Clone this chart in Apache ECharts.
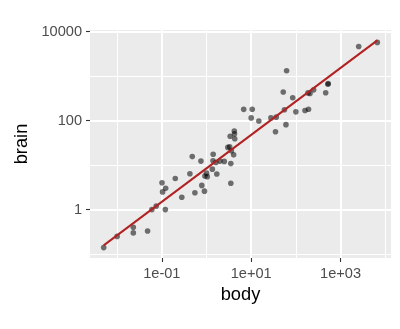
<!DOCTYPE html>
<html><head><meta charset="utf-8">
<script src="https://cdn.jsdelivr.net/npm/echarts@6/dist/echarts.min.js"></script>
<style>html,body{margin:0;padding:0;background:#fff}#c{width:400px;height:329px}</style>
</head><body><div id="c"></div>
<script>
// MASS::mammals (body kg, brain g)
const species = ["Arctic fox","Owl monkey","Mountain beaver","Cow","Grey wolf","Goat","Roe deer","Guinea pig","Verbet","Chinchilla","Ground squirrel","Arctic ground squirrel","African giant pouched rat","Lesser short-tailed shrew","Star-nosed mole","Nine-banded armadillo","Tree hyrax","N.A. opossum","Asian elephant","Big brown bat","Donkey","Horse","European hedgehog","Patas monkey","Cat","Galago","Genet","Giraffe","Gorilla","Grey seal","Rock hyrax-a","Human","African elephant","Water opossum","Rhesus monkey","Kangaroo","Yellow-bellied marmot","Golden hamster","Mouse","Little brown bat","Slow loris","Okapi","Rabbit","Sheep","Jaguar","Chimpanzee","Baboon","Desert hedgehog","Giant armadillo","Rock hyrax-b","Raccoon","Rat","E. American mole","Mole rat","Musk shrew","Pig","Echidna","Brazilian tapir","Tenrec","Phalanger","Tree shrew","Red fox"];
const body = [3.385,0.48,1.35,465,36.33,27.66,14.83,1.04,4.19,0.425,0.101,0.92,1,0.005,0.06,3.5,2,1.7,2547,0.023,187.1,521,0.785,10,3.3,0.2,1.41,529,207,85,0.75,62,6654,3.5,6.8,35,4.05,0.12,0.023,0.01,1.4,250,2.5,55.5,100,52.16,10.55,0.55,60,3.6,4.288,0.28,0.075,0.122,0.048,192,3,160,0.9,1.62,0.104,4.235];
const brain = [44.5,15.5,8.1,423,119.5,115,98.2,5.5,58,6.4,4,5.7,6.6,0.14,1,10.8,12.3,6.3,4603,0.3,419,655,3.5,115,25.6,5,17.5,680,406,325,12.3,1320,5712,3.9,179,56,17,1,0.4,0.25,12.5,490,12.1,175,157,440,179.5,2.4,81,21,39.2,1.9,1.2,3,0.33,180,25,169,2.6,11.4,2.5,50.4];
// fitted line endpoints
const fitBody = [0.005, 6654];
const fitBrain = [0.157, 6340];
// ticks
const xMajor = [0.1, 10, 1000];
const xMajorLabels = ["1e-01", "1e+01", "1e+03"];
const xMinor = [0.01, 1, 100, 10000];
const yMajor = [1, 100, 10000];
const yMajorLabels = ["1", "100", "10000"];
const yMinor = [0.1, 10, 1000];
const xLim = [0.00247, 13460];
const yLim = [0.0818, 10840];

const ch = echarts.init(document.getElementById('c'), null, {renderer: 'canvas'});
const lblFont = {color: '#4D4D4D', fontSize: 14.6, fontFamily: 'Liberation Sans, Arial, sans-serif'};
const gridLines = [];
xMinor.forEach(v => gridLines.push({xAxis: v, lineStyle: {width: 1, color: '#FFFFFF', type: 'solid'}}));
yMinor.forEach(v => gridLines.push({yAxis: v, lineStyle: {width: 1, color: '#FFFFFF', type: 'solid'}}));
xMajor.forEach(v => gridLines.push({xAxis: v, lineStyle: {width: 2, color: '#FFFFFF', type: 'solid'}}));
yMajor.forEach(v => gridLines.push({yAxis: v, lineStyle: {width: 2, color: '#FFFFFF', type: 'solid'}}));

ch.setOption({
  animation: false,
  grid: {left: 90, right: 9, top: 30, bottom: 71, show: true, backgroundColor: '#EBEBEB', borderWidth: 0},
  xAxis: {
    type: 'log', logBase: 10, min: xLim[0], max: xLim[1],
    name: 'body', nameLocation: 'middle', nameGap: 28,
    nameTextStyle: {color: '#000', fontSize: 18.3, fontFamily: 'Liberation Sans, Arial, sans-serif'},
    axisLine: {show: false},
    axisTick: {show: true, length: 4, lineStyle: {color: '#333333', width: 1.1}, customValues: xMajor},
    axisLabel: Object.assign({margin: 8, customValues: xMajor, formatter: v => {
      const i = xMajor.findIndex(m => Math.abs(Math.log10(m) - Math.log10(v)) < 1e-6);
      return i >= 0 ? xMajorLabels[i] : '';
    }}, lblFont),
    splitLine: {show: false}, minorSplitLine: {show: false}
  },
  yAxis: {
    type: 'log', logBase: 10, min: yLim[0], max: yLim[1],
    name: 'brain', nameLocation: 'middle', nameGap: 57, nameRotate: 90,
    nameTextStyle: {color: '#000', fontSize: 18.3, fontFamily: 'Liberation Sans, Arial, sans-serif'},
    axisLine: {show: false},
    axisTick: {show: true, length: 4, lineStyle: {color: '#333333', width: 1.1}, customValues: yMajor},
    axisLabel: Object.assign({margin: 8, customValues: yMajor, formatter: v => {
      const i = yMajor.findIndex(m => Math.abs(Math.log10(m) - Math.log10(v)) < 1e-6);
      return i >= 0 ? yMajorLabels[i] : '';
    }}, lblFont),
    splitLine: {show: false}, minorSplitLine: {show: false}
  },
  series: [
    {type: 'line', z: 1, data: [], silent: true,
     markLine: {z: 1, silent: true, symbol: ['none', 'none'], label: {show: false}, animation: false, data: gridLines}},
    {type: 'scatter', z: 3, symbolSize: 5.6,
     itemStyle: {color: 'rgba(0,0,0,0.68)', borderWidth: 0},
     data: body.map((b, i) => [b, brain[i], species[i]])},
    {type: 'line', z: 4, showSymbol: false, symbol: 'none',
     lineStyle: {color: '#B22222', width: 2},
     data: fitBody.map((b, i) => [b, fitBrain[i]])}
  ]
});
</script></body></html>
